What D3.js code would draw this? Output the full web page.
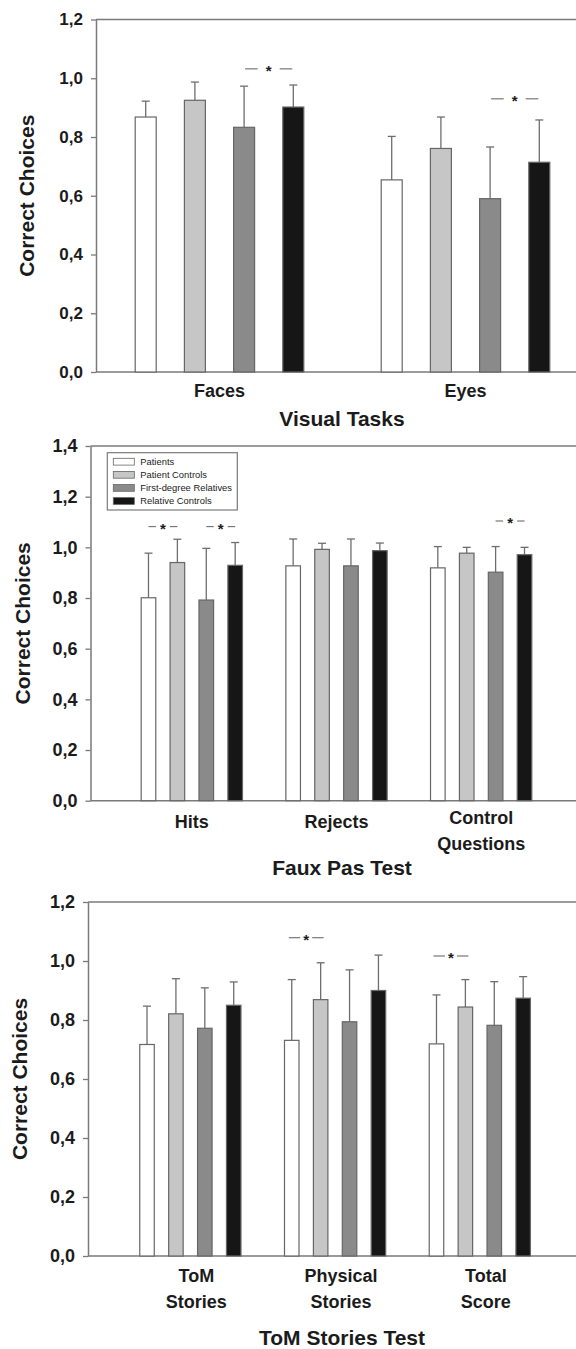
<!DOCTYPE html>
<html>
<head>
<meta charset="utf-8">
<script src="https://cdn.jsdelivr.net/npm/d3@7"></script>
<style>
body { margin: 0; background: #fff; }
svg text { font-family: "Liberation Sans", Arial, sans-serif; fill: #1b1b1b; }
</style>
</head>
<body>
<svg id="chart" width="576" height="1349"></svg>
<script>
// groups of subjects (legend)
var groups = ["Patients", "Patient Controls", "First-degree Relatives", "Relative Controls"]

// Visual tasks
var visualCats = [["Faces"], ["Eyes"]]
var visualMeans = [[0.868, 0.925, 0.833, 0.902], [0.654, 0.761, 0.590, 0.714]]
var visualErr = [[0.054, 0.062, 0.140, 0.075], [0.148, 0.107, 0.176, 0.144]]
var visualSig = [{cat: 0, a: 2, b: 3, level: 1.032}, {cat: 1, a: 2, b: 3, level: 0.930}]
var visualTicks = [0, 0.2, 0.4, 0.6, 0.8, 1.0, 1.2]

// Faux pas test
var fauxCats = [["Hits"], ["Rejects"], ["Control", "Questions"]]
var fauxMeans = [[0.801, 0.940, 0.792, 0.929], [0.927, 0.992, 0.927, 0.987], [0.919, 0.977, 0.902, 0.971]]
var fauxErr = [[0.176, 0.092, 0.204, 0.090], [0.106, 0.024, 0.106, 0.030], [0.084, 0.023, 0.101, 0.029]]
var fauxSig = [{cat: 0, a: 0, b: 1, level: 1.082}, {cat: 0, a: 2, b: 3, level: 1.082}, {cat: 2, a: 2, b: 3, level: 1.104}]
var fauxTicks = [0, 0.2, 0.4, 0.6, 0.8, 1.0, 1.2, 1.4]

// ToM stories test
var tomCats = [["ToM", "Stories"], ["Physical", "Stories"], ["Total", "Score"]]
var tomMeans = [[0.717, 0.821, 0.772, 0.850], [0.731, 0.869, 0.794, 0.900], [0.719, 0.844, 0.782, 0.874]]
var tomErr = [[0.130, 0.119, 0.137, 0.079], [0.206, 0.125, 0.176, 0.120], [0.166, 0.093, 0.148, 0.073]]
var tomSig = [{cat: 1, a: 0, b: 1, level: 1.079}, {cat: 2, a: 0, b: 1, level: 1.017}]
var tomTicks = [0, 0.2, 0.4, 0.6, 0.8, 1.0, 1.2]

var fills = ["#ffffff", "#c6c6c6", "#8a8a8a", "#161616"]
var axisColor = "#7a7a7a"
var svg = d3.select("#chart")
var fmt = function(d) { return d3.format(".1f")(d).replace(".", ",") }

function drawPanel(cfg) {
    var g = svg.append("g")
    var yMax = cfg.ticks[cfg.ticks.length - 1]
    var y = d3.scaleLinear().domain([0, yMax]).range([cfg.bottom, cfg.top])
    var x = d3.scaleBand().domain(d3.range(cfg.cats.length)).range([cfg.left, cfg.right])
    var inner = d3.scaleBand().domain(d3.range(groups.length))
                  .range([-2 * cfg.step, 2 * cfg.step])
                  .paddingInner(1 - cfg.barW / cfg.step)
                  .paddingOuter((1 - cfg.barW / cfg.step) / 2)
    var cx = function(c, s) { return x(c) + x.bandwidth() / 2 + inner(s) }

    // frame: top line and baseline
    g.append("line").attr("x1", cfg.axisX).attr("x2", 576).attr("y1", y(yMax)).attr("y2", y(yMax))
     .attr("stroke", axisColor).attr("stroke-width", 1.5)
    g.append("line").attr("x1", cfg.axisX).attr("x2", 576).attr("y1", y(0)).attr("y2", y(0))
     .attr("stroke", axisColor).attr("stroke-width", 1.5)

    var ax = g.append("g").attr("transform", "translate(" + cfg.axisX + ",0)")
              .call(d3.axisLeft(y).tickValues(cfg.ticks).tickFormat(fmt).tickSize(5).tickPadding(8).tickSizeOuter(0))
    ax.select(".domain").attr("stroke", axisColor).attr("stroke-width", 1.5)
    ax.selectAll(".tick line").attr("stroke", axisColor).attr("stroke-width", 1.3)
    ax.selectAll(".tick text").attr("font-size", cfg.tickFont).attr("font-weight", "bold").attr("fill", "#1b1b1b")

    // bars with upper error bars
    var rows = []
    cfg.means.forEach(function(m, c) {
        m.forEach(function(v, s) { rows.push({c: c, s: s, v: v, e: cfg.err[c][s]}) })
    })
    var mid = function(d) { return cx(d.c, d.s) + inner.bandwidth() / 2 }
    var bars = g.selectAll(".bar").data(rows).enter().append("g")
    bars.append("line")
        .attr("x1", mid).attr("x2", mid)
        .attr("y1", function(d) { return y(d.v) })
        .attr("y2", function(d) { return y(d.v + d.e) })
        .attr("stroke", "#6e6e6e").attr("stroke-width", 1.3)
    bars.append("line")
        .attr("x1", function(d) { return mid(d) - 4 })
        .attr("x2", function(d) { return mid(d) + 4 })
        .attr("y1", function(d) { return y(d.v + d.e) })
        .attr("y2", function(d) { return y(d.v + d.e) })
        .attr("stroke", "#6e6e6e").attr("stroke-width", 1.3)
    bars.append("rect")
        .attr("x", function(d) { return cx(d.c, d.s) })
        .attr("width", inner.bandwidth())
        .attr("y", function(d) { return y(d.v) })
        .attr("height", function(d) { return y(0) - y(d.v) })
        .attr("fill", function(d) { return fills[d.s] })
        .attr("stroke", "#666").attr("stroke-width", 1.2)

    // significance markers  -- * --
    cfg.sig.forEach(function(sg) {
        var xa = cx(sg.cat, sg.a) + inner.bandwidth() / 2
        var xb = cx(sg.cat, sg.b) + inner.bandwidth() / 2
        var xm = (xa + xb) / 2, yy = y(sg.level)
        g.append("line").attr("x1", xa - cfg.sigExt).attr("x2", xm - cfg.sigGap).attr("y1", yy).attr("y2", yy)
         .attr("stroke", "#777").attr("stroke-width", 1.2)
        g.append("line").attr("x1", xm + cfg.sigGap).attr("x2", xb + cfg.sigExt).attr("y1", yy).attr("y2", yy)
         .attr("stroke", "#777").attr("stroke-width", 1.2)
        g.append("text").attr("x", xm).attr("y", yy + 7).attr("text-anchor", "middle")
         .attr("font-size", 15).attr("font-weight", "bold").text("*")
    })

    // category labels
    cfg.cats.forEach(function(lines, c) {
        var t = g.append("text").attr("text-anchor", "middle").attr("font-size", 18).attr("font-weight", "bold")
        lines.forEach(function(l, i) {
            var by = lines.length > 1 ? cfg.labelY2 : cfg.labelY
            t.append("tspan").attr("x", x(c) + x.bandwidth() / 2 + cfg.labelDx).attr("y", by + i * 25.5).text(l)
        })
    })

    // axis titles
    g.append("text").attr("x", cfg.titleX).attr("y", cfg.titleY).attr("text-anchor", "middle")
     .attr("font-size", 21).attr("font-weight", "bold").text(cfg.title)
    g.append("text").attr("transform", "translate(" + cfg.ylabX + "," + (cfg.top + cfg.bottom) / 2 + ") rotate(-90)")
     .attr("text-anchor", "middle").attr("dominant-baseline", "central")
     .attr("font-size", 21).attr("font-weight", "bold").text("Correct Choices")
    return g
}

drawPanel({cats: visualCats, means: visualMeans, err: visualErr, sig: visualSig, ticks: visualTicks,
           top: 19.5, bottom: 372, axisX: 96, left: 96.5, right: 588.5, step: 49.2, barW: 21,
           tickFont: 17, labelY: 397, labelY2: 397, labelDx: 0, title: "Visual Tasks", titleX: 342, titleY: 426,
           ylabX: 26.5, sigGap: 11, sigExt: -1})

var p2 = drawPanel({cats: fauxCats, means: fauxMeans, err: fauxErr, sig: fauxSig, ticks: fauxTicks,
           top: 446, bottom: 800.7, axisX: 90.5, left: 119.5, right: 553.5, step: 28.9, barW: 14.6,
           tickFont: 18, labelY: 828, labelY2: 824, labelDx: 0, title: "Faux Pas Test", titleX: 342, titleY: 875,
           ylabX: 22, sigGap: 7, sigExt: 0})

drawPanel({cats: tomCats, means: tomMeans, err: tomErr, sig: tomSig, ticks: tomTicks,
           top: 902, bottom: 1256, axisX: 88, left: 118, right: 552.2, step: 28.9, barW: 14.5,
           tickFont: 18, labelY: 1282, labelY2: 1282, labelDx: 6, title: "ToM Stories Test", titleX: 342, titleY: 1345,
           ylabX: 19.5, sigGap: 6, sigExt: 3})

// legend in the faux pas panel
var leg = p2.append("g").attr("transform", "translate(107.3,452.7)")
leg.append("rect").attr("width", 130).attr("height", 57.3).attr("fill", "#fff")
   .attr("stroke", "#7a7a7a").attr("stroke-width", 1.2)
var item = leg.selectAll(".item").data(groups).enter().append("g")
              .attr("transform", function(d, i) { return "translate(6," + (9 + i * 13.1) + ")" })
item.append("rect").attr("x", 0).attr("y", -3.4).attr("width", 21).attr("height", 6.8)
    .attr("fill", function(d, i) { return fills[i] }).attr("stroke", "#666").attr("stroke-width", 0.8)
item.append("text").attr("x", 27).attr("y", 3.3).attr("font-size", 9.4).attr("fill", "#333").text(function(d) { return d })
</script>
</body>
</html>
